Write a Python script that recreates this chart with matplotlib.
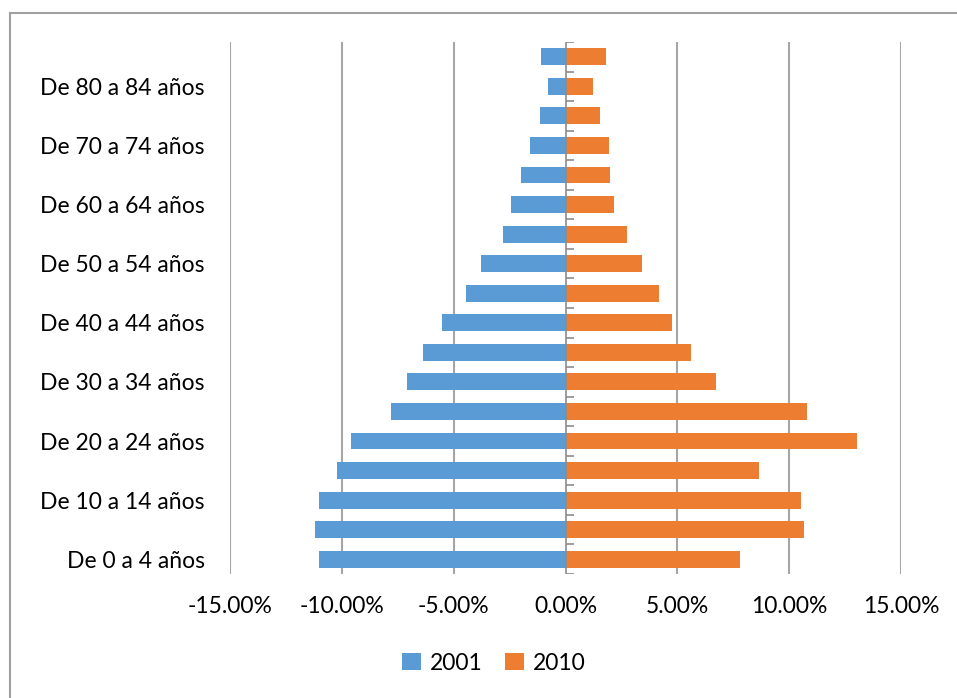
import matplotlib
matplotlib.use("Agg")
from matplotlib import pyplot as plt
from matplotlib.lines import Line2D
from matplotlib.ticker import FuncFormatter
import numpy as np

plt.rcParams['font.family'] = ['Lato', 'DejaVu Sans']

# Age groups, bottom to top
age_groups = [
    "De 0 a 4 años", "De 5 a 9 años", "De 10 a 14 años", "De 15 a 19 años",
    "De 20 a 24 años", "De 25 a 29 años", "De 30 a 34 años", "De 35 a 39 años",
    "De 40 a 44 años", "De 45 a 49 años", "De 50 a 54 años", "De 55 a 59 años",
    "De 60 a 64 años", "De 65 a 69 años", "De 70 a 74 años", "De 75 a 79 años",
    "De 80 a 84 años", "De 85 y más",
]

# share of population (%), 2001 drawn to the left
pct_2001 = [11.00, 11.21, 11.03, 10.20, 9.60, 7.80, 7.08, 6.37, 5.53,
            4.43, 3.80, 2.79, 2.43, 2.00, 1.59, 1.16, 0.79, 1.10]
pct_2010 = [7.79, 10.66, 10.54, 8.66, 13.04, 10.78, 6.73, 5.61, 4.76,
            4.18, 3.43, 2.77, 2.18, 1.98, 1.95, 1.55, 1.25, 1.82]

x_ticks = [-15, -10, -5, 0, 5, 10, 15]

BLUE = "#5B9BD5"
ORANGE = "#ED7D31"
GRID = "#A6A6A6"

fig = plt.figure(figsize=(9.57, 6.98), dpi=100)
ax = fig.add_axes([230 / 957, 1 - 574 / 698, 671 / 957, 532 / 698])

y = np.arange(len(age_groups))
ax.barh(y, -np.array(pct_2001), height=0.57, color=BLUE, label="2001", zorder=3)
ax.barh(y, pct_2010, height=0.57, color=ORANGE, label="2010", zorder=3)

ax.set_xlim(-15, 15)
ax.set_ylim(-0.5, len(age_groups) - 0.5)

# vertical grid lines
for xt in x_ticks:
    if xt != 0:
        ax.axvline(xt, color=GRID, lw=1.5, zorder=1)

# category axis at 0 with small ticks to the right
ax.axvline(0, color="#8C8C8C", lw=1.2, zorder=4)
ax.hlines(np.arange(len(age_groups) + 1) - 0.5, 0, 0.36, color="#8C8C8C", lw=1.2, zorder=4)

ax.set_xticks(x_ticks)
ax.xaxis.set_major_formatter(FuncFormatter(lambda v, p: f"{v:.2f}%"))
ax.set_yticks(y[::2])
ax.set_yticklabels(age_groups[::2])
ax.tick_params(axis='both', length=0, labelsize=16.5)
ax.tick_params(axis='y', pad=18)
ax.tick_params(axis='x', pad=16)
for s in ax.spines.values():
    s.set_visible(False)

fig.legend(loc="center", bbox_to_anchor=(494 / 957, 1 - 663 / 698), ncol=2,
           frameon=False, fontsize=16.5, handlelength=0.8, handleheight=0.8,
           columnspacing=1.0, handletextpad=0.4)

# outer chart border (left and top only visible)
fig.add_artist(Line2D([10 / 957, 10 / 957], [0, 1 - 13 / 698], color="#A0A0A0", lw=1.5,
                      transform=fig.transFigure))
fig.add_artist(Line2D([10 / 957, 1], [1 - 13 / 698, 1 - 13 / 698], color="#A0A0A0", lw=1.5,
                      transform=fig.transFigure))

fig.savefig("out.png", dpi=100)
